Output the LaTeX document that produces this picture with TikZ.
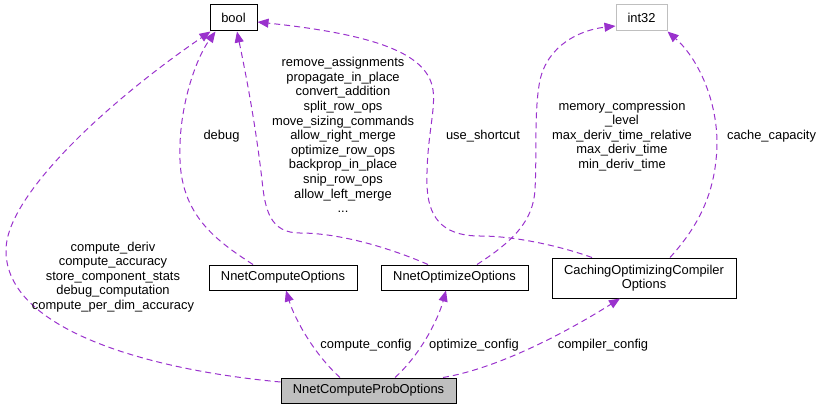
\documentclass[tikz,border=0pt]{standalone}
\usepackage{fontspec}
\setmainfont{Liberation Sans}
\usetikzlibrary{arrows.meta}
\definecolor{edgepurple}{HTML}{9A32CD}
\definecolor{boxgray}{HTML}{BFBFBF}
\begin{document}
\begin{tikzpicture}[x=1pt,y=-1pt,
  font=\fontsize{12.9}{14.6}\selectfont,
  cls/.style={draw=black,line width=1pt,inner sep=0pt,align=center,text=black},
  rel/.style={draw=edgepurple,line width=1pt,dash pattern=on 6pt off 4pt,
    -{Triangle[length=11pt,width=9pt,fill=edgepurple,color=edgepurple]}},
  lbl/.style={inner sep=0pt,align=center,text=black}]
\useasboundingbox (0,0) rectangle (824,409);
% nodes
\node[cls,minimum width=47pt,minimum height=26pt] (bool) at (233.5,18) {bool};
\node[cls,draw=boxgray,minimum width=51pt,minimum height=26pt] (int) at (641.5,18) {int32};
\node[cls,minimum width=148pt,minimum height=25pt] (nco) at (283,277.5) {NnetComputeOptions};
\node[cls,minimum width=147pt,minimum height=25pt] (noo) at (454.5,277.5) {NnetOptimizeOptions};
\node[cls,minimum width=184pt,minimum height=40pt] (coco) at (644,278) {CachingOptimizingCompiler\\Options};
\node[cls,fill=boxgray,minimum width=175pt,minimum height=25pt] (ncpo) at (368.5,390.5) {NnetComputeProbOptions};
% edges
\draw[rel] ([yshift=8.5pt]ncpo.west) .. controls (150,370) and (5,330) .. (6,250)
  .. controls (6,195) and (110,100) .. ([xshift=1pt]bool.south west);
\draw[rel] ([xshift=-30pt]nco.north) .. controls (215,240) and (182,215) .. (180,160)
  .. controls (178,110) and (195,60) .. ([xshift=6pt]bool.south west);
\draw[rel] ([xshift=-26.5pt]noo.north) .. controls (390,248) and (340,233) .. (300,233)
  .. controls (270,233) and (265,210) .. (262,180)
  .. controls (255,120) and (245,70) .. ([xshift=3.5pt]bool.south);
\draw[rel] ([xshift=-52pt]coco.north) .. controls (560,246) and (515,236) .. (480,236)
  .. controls (440,236) and (428,215) .. (427,185)
  .. controls (426,140) and (436,110) .. (433,90)
  .. controls (428,55) and (380,35) .. ([yshift=-4pt]bool.east);
\draw[rel] ([xshift=22.5pt]noo.north) .. controls (515,240) and (533,220) .. (535,190)
  .. controls (537,150) and (534,110) .. (540,80)
  .. controls (548,45) and (580,30) .. ([yshift=-8pt]int.west);
\draw[rel] ([xshift=26pt]coco.north) .. controls (695,230) and (712,200) .. (716,160)
  .. controls (722,110) and (700,60) .. (int.south east);
\draw[rel] ([xshift=-28.5pt]ncpo.north) .. controls (315,355) and (295,320) .. ([xshift=3pt]nco.south);
\draw[rel] ([xshift=26.5pt]ncpo.north) .. controls (420,355) and (438,320) .. ([xshift=-8.5pt]noo.south);
\draw[rel] ([xshift=74.5pt]ncpo.north) .. controls (500,368) and (570,330) .. ([xshift=-24pt]coco.south);
% labels
\node[lbl] (l1) at (113,277) {compute\_deriv\\compute\_accuracy\\store\_component\_stats\\debug\_computation\\compute\_per\_dim\_accuracy};
\node[lbl] (l2) at (221.5,136) {debug};
\node[lbl] (l3) at (343,135) {remove\_assignments\\propagate\_in\_place\\convert\_addition\\split\_row\_ops\\move\_sizing\_commands\\allow\_right\_merge\\optimize\_row\_ops\\backprop\_in\_place\\snip\_row\_ops\\allow\_left\_merge\\...};
\node[lbl] (l4) at (483,136) {use\_shortcut};
\node[lbl] (l5) at (622,136) {memory\_compression\\\_level\\max\_deriv\_time\_relative\\max\_deriv\_time\\min\_deriv\_time};
\node[lbl] (l6) at (771.5,136) {cache\_capacity};
\node[lbl] (l7) at (366,345) {compute\_config};
\node[lbl] (l8) at (474,345) {optimize\_config};
\node[lbl] (l9) at (603,345) {compiler\_config};
\end{tikzpicture}
\end{document}
